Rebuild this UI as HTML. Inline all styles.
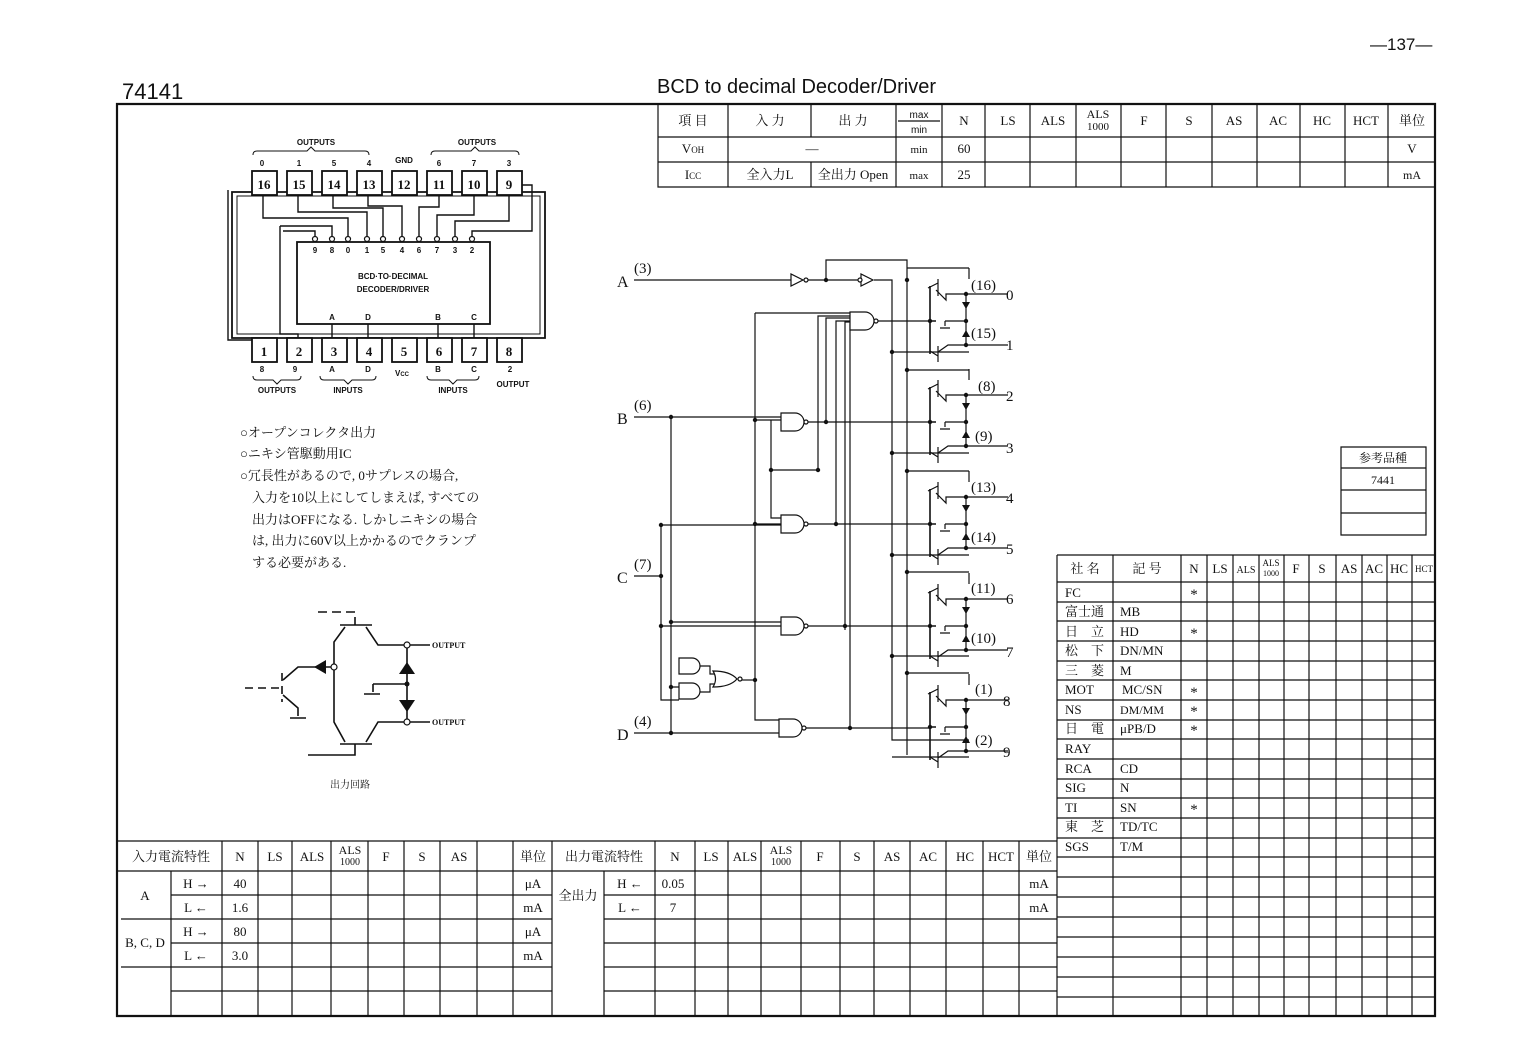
<!DOCTYPE html>
<html><head><meta charset="utf-8"><style>
html,body{margin:0;padding:0;background:#fff}
svg{display:block}
text{font-family:"Liberation Serif","Noto Serif CJK SC",serif;fill:#111}
.s{font-family:"Liberation Sans","Noto Sans CJK JP",sans-serif}
.j{font-family:"Liberation Serif","Noto Serif CJK SC","Noto Sans CJK JP",serif}
</style></head><body>
<svg width="1537" height="1056" viewBox="0 0 1537 1056" xmlns="http://www.w3.org/2000/svg">
<rect width="1537" height="1056" fill="#fff"/>
<g stroke="#111" fill="none" stroke-width="1.3">
<path d="M117 104H1435V1016H117Z" stroke-width="2.2"/>
</g>
<text x="1370" y="50" font-size="17" class="s">—137—</text>
<text x="122" y="99" font-size="22" class="s">74141</text>
<text x="657" y="93" font-size="20" class="s">BCD to decimal Decoder/Driver</text>

<g stroke="#111" stroke-width="1.2" fill="none">
<path d="M658 104V187H1435M658 137H1435M658 162H1435"/>
<path d="M728 104V187M811 104V137M811 162V187M896 104V187M942 104V187M985 104V187M1030 104V187M1076 104V187M1121 104V187M1166 104V187M1212 104V187M1257 104V187M1300 104V187M1345 104V187M1388 104V187M898 121H940"/>
</g>
<g font-size="13" text-anchor="middle" class="j">
<text x="693" y="125">項 目</text><text x="770" y="125">入 力</text><text x="853" y="125">出 力</text>
<text x="919" y="118" font-size="10" class="s">max</text><text x="919" y="133" font-size="10" class="s">min</text>
<text x="964" y="125">N</text><text x="1008" y="125">LS</text><text x="1053" y="125">ALS</text>
<text x="1098" y="118" font-size="12">ALS</text><text x="1098" y="130" font-size="11">1000</text>
<text x="1144" y="125">F</text><text x="1189" y="125">S</text><text x="1234" y="125">AS</text><text x="1278" y="125">AC</text><text x="1322" y="125">HC</text><text x="1366" y="125">HCT</text><text x="1412" y="125">単位</text>
<text x="693" y="153">V<tspan font-size="9">OH</tspan></text><text x="812" y="153">—</text><text x="919" y="153" font-size="11">min</text><text x="964" y="153">60</text><text x="1412" y="153">V</text>
<text x="693" y="179">I<tspan font-size="9">CC</tspan></text><text x="770" y="179">全入力L</text><text x="853" y="179">全出力 Open</text><text x="919" y="179" font-size="11">max</text><text x="964" y="179">25</text><text x="1412" y="179" font-size="12">mA</text>
</g>

<g stroke="#111" stroke-width="1.2" fill="none"><path d="M1341 447H1426V535H1341ZM1341 468H1426M1341 490H1426M1341 513H1426"/></g>
<text x="1383" y="462" font-size="12" text-anchor="middle" class="j">参考品種</text>
<text x="1383" y="484" font-size="12" text-anchor="middle">7441</text>

<g stroke="#111" stroke-width="1.2" fill="none">
<path d="M1057 555H1436M1057 582H1436"/>
<path d="M1057 555V1016M1113 555V1016M1181 555V1016M1207 555V1016M1233 555V1016M1259 555V1016M1284 555V1016M1309 555V1016M1336 555V1016M1362 555V1016M1387 555V1016M1412 555V1016"/>
<path d="M1057 602H1436M1057 621H1436M1057 641H1436M1057 661H1436M1057 680H1436M1057 700H1436M1057 720H1436M1057 739H1436M1057 759H1436M1057 779H1436M1057 798H1436M1057 818H1436M1057 838H1436M1057 857H1436M1057 877H1436M1057 897H1436M1057 917H1436M1057 937H1436M1057 957H1436M1057 977H1436M1057 997H1436"/>
</g>
<g font-size="13" class="j">
<g text-anchor="middle"><text x="1085" y="573">社 名</text><text x="1147" y="573">記 号</text><text x="1194" y="573">N</text><text x="1220" y="573">LS</text><text x="1246" y="573" font-size="10">ALS</text><text x="1271" y="566" font-size="9">ALS</text><text x="1271" y="576" font-size="8">1000</text><text x="1296" y="573">F</text><text x="1322" y="573">S</text><text x="1349" y="573">AS</text><text x="1374" y="573">AC</text><text x="1399" y="573">HC</text><text x="1424" y="572" font-size="9">HCT</text></g>
<text x="1065" y="597">FC</text><text x="1065" y="616">富士通</text><text x="1120" y="616">MB</text>
<text x="1065" y="636">日　立</text><text x="1120" y="636">HD</text>
<text x="1065" y="655">松　下</text><text x="1120" y="655">DN/MN</text>
<text x="1065" y="675">三　菱</text><text x="1120" y="675">M</text>
<text x="1065" y="694">MOT</text><text x="1122" y="694">MC/SN</text>
<text x="1065" y="714">NS</text><text x="1120" y="714" font-size="12">DM/MM</text>
<text x="1065" y="733">日　電</text><text x="1120" y="733">μPB/D</text>
<text x="1065" y="753">RAY</text>
<text x="1065" y="773">RCA</text><text x="1120" y="773">CD</text>
<text x="1065" y="792">SIG</text><text x="1120" y="792">N</text>
<text x="1065" y="812">TI</text><text x="1120" y="812">SN</text>
<text x="1065" y="831">東　芝</text><text x="1120" y="831">TD/TC</text>
<text x="1065" y="851">SGS</text><text x="1120" y="851">T/M</text>
<g text-anchor="middle" font-size="15"><text x="1194" y="599">*</text><text x="1194" y="638">*</text><text x="1194" y="697">*</text><text x="1194" y="716">*</text><text x="1194" y="735">*</text><text x="1194" y="814">*</text></g>
</g>

<g stroke="#111" stroke-width="1.2" fill="none">
<path d="M117 841H1057M117 871H1057"/>
<path d="M171 895H552M604 895H1057M121 919H552M604 919H1057M171 943H552M604 943H1057M121 967H552M604 967H1057M171 991H552M604 991H1057"/>
<path d="M171 871V1016M222 841V1016M258 841V1016M292 841V1016M331 841V1016M368 841V1016M404 841V1016M440 841V1016M477 841V1016M513 841V1016M552 841V1016M604 871V1016M655 841V1016M695 841V1016M728 841V1016M761 841V1016M801 841V1016M840 841V1016M874 841V1016M910 841V1016M946 841V1016M983 841V1016M1019 841V1016"/>
</g>
<g font-size="13" class="j" text-anchor="middle">
<text x="171" y="861">入力電流特性</text><text x="240" y="861">N</text><text x="275" y="861">LS</text><text x="312" y="861">ALS</text><text x="350" y="854" font-size="12">ALS</text><text x="350" y="865" font-size="10">1000</text><text x="386" y="861">F</text><text x="422" y="861">S</text><text x="459" y="861">AS</text><text x="533" y="861">単位</text>
<text x="604" y="861">出力電流特性</text><text x="675" y="861">N</text><text x="711" y="861">LS</text><text x="745" y="861">ALS</text><text x="781" y="854" font-size="12">ALS</text><text x="781" y="865" font-size="10">1000</text><text x="820" y="861">F</text><text x="857" y="861">S</text><text x="892" y="861">AS</text><text x="928" y="861">AC</text><text x="965" y="861">HC</text><text x="1001" y="861">HCT</text><text x="1039" y="861">単位</text>
<text x="145" y="900">A</text><text x="145" y="947">B, C, D</text>
<text x="196" y="888">H →</text><text x="196" y="912">L ←</text><text x="196" y="936">H →</text><text x="196" y="960">L ←</text>
<text x="240" y="888">40</text><text x="240" y="912">1.6</text><text x="240" y="936">80</text><text x="240" y="960">3.0</text>
<text x="533" y="888">μA</text><text x="533" y="912">mA</text><text x="533" y="936">μA</text><text x="533" y="960">mA</text>
<text x="578" y="900">全出力</text><text x="630" y="888">H ←</text><text x="630" y="912">L ←</text><text x="673" y="888">0.05</text><text x="673" y="912">7</text>
<text x="1039" y="888">mA</text><text x="1039" y="912">mA</text>
</g>

<g font-size="13" class="j">
<text x="240" y="437">○オープンコレクタ出力</text>
<text x="240" y="458">○ニキシ管駆動用IC</text>
<text x="240" y="480">○冗長性があるので, 0サプレスの場合,</text>
<text x="252" y="502">入力を10以上にしてしまえば, すべての</text>
<text x="252" y="524">出力はOFFになる. しかしニキシの場合</text>
<text x="252" y="545">は, 出力に60V以上かかるのでクランプ</text>
<text x="252" y="567">する必要がある.</text>
</g>

<g stroke="#111" stroke-width="1.8" fill="none">
<path d="M232 192H545V338H232Z"/>
<path d="M237 196H540V334H237Z" stroke-width="1"/>
<rect x="297" y="242" width="193" height="82"/>
</g>
<g stroke="#111" stroke-width="1.8" fill="#fff">
<rect x="252" y="171" width="25" height="24"/><rect x="287" y="171" width="25" height="24"/><rect x="322" y="171" width="25" height="24"/><rect x="357" y="171" width="25" height="24"/><rect x="392" y="171" width="25" height="24"/><rect x="427" y="171" width="25" height="24"/><rect x="462" y="171" width="25" height="24"/><rect x="497" y="171" width="25" height="24"/>
<rect x="252" y="338" width="25" height="24"/><rect x="287" y="338" width="25" height="24"/><rect x="322" y="338" width="25" height="24"/><rect x="357" y="338" width="25" height="24"/><rect x="392" y="338" width="25" height="24"/><rect x="427" y="338" width="25" height="24"/><rect x="462" y="338" width="25" height="24"/><rect x="497" y="338" width="25" height="24"/>
</g>
<g stroke="#111" stroke-width="1.4" fill="none">
<path d="M263 195V218H348V236"/><path d="M298 195V212H367V236"/><path d="M333 195V208H383V236"/><path d="M368 195V206H402V236"/>
<path d="M439 195V207H419V236"/><path d="M474 195V215H437V236"/><path d="M509 195V221H455V236"/>
<path d="M522 185H532V231H472V236"/>
<path d="M228 190V340H252"/>
<path d="M280 226H332V236"/><path d="M280 226V334H298V338"/>
<path d="M283 231H315V236"/>
<path d="M332 324V338M368 324V338M438 324V338M474 324V338"/>
</g>
<g fill="#fff" stroke="#111" stroke-width="1.2"><circle cx="315" cy="239" r="2.5"/><circle cx="332" cy="239" r="2.5"/><circle cx="348" cy="239" r="2.5"/><circle cx="367" cy="239" r="2.5"/><circle cx="383" cy="239" r="2.5"/><circle cx="402" cy="239" r="2.5"/><circle cx="419" cy="239" r="2.5"/><circle cx="437" cy="239" r="2.5"/><circle cx="455" cy="239" r="2.5"/><circle cx="472" cy="239" r="2.5"/></g>
<g class="s" font-weight="bold" text-anchor="middle">
<g font-size="13"><text x="264" y="189">16</text><text x="299" y="189">15</text><text x="334" y="189">14</text><text x="369" y="189">13</text><text x="404" y="189">12</text><text x="439" y="189">11</text><text x="474" y="189">10</text><text x="509" y="189">9</text>
<text x="264" y="356">1</text><text x="299" y="356">2</text><text x="334" y="356">3</text><text x="369" y="356">4</text><text x="404" y="356">5</text><text x="439" y="356">6</text><text x="474" y="356">7</text><text x="509" y="356">8</text></g>
<g font-size="8" class="s"><text x="316" y="145" class="s">OUTPUTS</text><text x="477" y="145" class="s">OUTPUTS</text><text x="404" y="163" class="s">GND</text>
<text x="262" y="166" class="s">0</text><text x="299" y="166" class="s">1</text><text x="334" y="166" class="s">5</text><text x="369" y="166" class="s">4</text><text x="439" y="166" class="s">6</text><text x="474" y="166" class="s">7</text><text x="509" y="166" class="s">3</text>
<text x="315" y="253" class="s">9</text><text x="332" y="253" class="s">8</text><text x="348" y="253" class="s">0</text><text x="367" y="253" class="s">1</text><text x="383" y="253" class="s">5</text><text x="402" y="253" class="s">4</text><text x="419" y="253" class="s">6</text><text x="437" y="253" class="s">7</text><text x="455" y="253" class="s">3</text><text x="472" y="253" class="s">2</text>
<text x="393" y="279" class="s">BCD·TO·DECIMAL</text><text x="393" y="292" class="s">DECODER/DRIVER</text>
<text x="332" y="320" class="s">A</text><text x="368" y="320" class="s">D</text><text x="438" y="320" class="s">B</text><text x="474" y="320" class="s">C</text>
<text x="262" y="372" class="s">8</text><text x="295" y="372" class="s">9</text><text x="332" y="372" class="s">A</text><text x="368" y="372" class="s">D</text><text x="402" y="376" class="s">V<tspan font-size="6">CC</tspan></text><text x="438" y="372" class="s">B</text><text x="474" y="372" class="s">C</text><text x="510" y="372" class="s">2</text>
<text x="277" y="393" class="s">OUTPUTS</text><text x="348" y="393" class="s">INPUTS</text><text x="453" y="393" class="s">INPUTS</text><text x="513" y="387" class="s">OUTPUT</text></g>
</g>
<g stroke="#111" stroke-width="1" fill="none">
<path d="M253 155q0-4 4-4h50l4-4 4 4h50q4 0 4 4"/><path d="M431 155q0-4 4-4h36l4-4 4 4h36q4 0 4 4"/>
<path d="M253 376q0 4 4 4h16l4 4 4-4h16q4 0 4-4"/><path d="M320 376q0 4 4 4h20l4 4 4-4h20q4 0 4-4"/><path d="M427 376q0 4 4 4h18l4 4 4-4h18q4 0 4-4"/>
</g>

<g stroke="#111" stroke-width="1.6" fill="none">
<path d="M318 612H355V625" stroke-dasharray="9 5"/><path d="M340 625H372"/>
<path d="M345 627L334 642V722L345 742"/><path d="M366 627L378 645H430"/>
<path d="M340 744H372M308 755H355V744" /><path d="M366 742L378 722H430"/>
<path d="M407 645V722M373 684H407M373 684V692M364 694H380"/>
<path d="M282 673V702M245 688H280" stroke-dasharray="8 5"/>
<path d="M283 680L298 667H334M283 695L298 708V716M290 718H306"/>
</g>
<g fill="#111"><path d="M399 674L407 662L415 674Z"/><path d="M399 700H415L407 712Z"/><path d="M314 667L326 660V674Z"/><circle cx="407" cy="684" r="2.5"/></g>
<g fill="#fff" stroke="#111" stroke-width="1.2"><circle cx="407" cy="645" r="3"/><circle cx="407" cy="722" r="3"/><circle cx="334" cy="667" r="3"/></g>
<g class="s" font-size="8" font-weight="bold"><text x="432" y="648">OUTPUT</text><text x="432" y="725">OUTPUT</text></g>
<text x="330" y="788" font-size="10" class="j">出力回路</text>

<g stroke="#111" stroke-width="1.2" fill="none">
<path d="M634 280H791M807 280H861M874 280H892V740H969"/>
<path d="M826 280V260H907V755"/>
<path d="M634 417H785M634 576H661M634 733H779"/>
<path d="M671 417V733M661 525V700H679M661 525H781M671 622H781M661 626H781M671 687H679M661 576"/>
<path d="M755 313V720H779M755 313H859M755 420H771V518H781M771 420H785M771 470H818M755 524H781"/>
<path d="M739 680H755"/>
<path d="M826 420V318H859M818 470V316H859M836 522V321H859M845 630V322H859M850 730V324H859"/>
<path d="M805 422H826M805 524H836M805 626H845M805 728H850"/>
<path d="M700 666H710V674H715M700 692H710V684H715"/>
<path d="M878 321H930M826 422H930M836 524H930M845 626H930M850 728H930"/>
<path d="M892 352H969M892 453H969M892 555H969M892 656H969M892 757H969"/>
<path d="M907 268H969M907 370H969M907 471H969M907 572H969M907 673H969"/>
</g>
<g stroke="#111" stroke-width="1.2" fill="#fff">
<path d="M791 274V286L803 280Z"/><circle cx="806" cy="280" r="2"/>
<path d="M861 274V286L873 280Z"/><circle cx="860" cy="280" r="2"/>
<path d="M850 312H865A9 9 0 0 1 865 330H850Z"/><circle cx="876" cy="321" r="2"/>
<path d="M781 413H795A9 9 0 0 1 795 431H781Z"/><circle cx="806" cy="422" r="2"/>
<path d="M781 515H795A9 9 0 0 1 795 533H781Z"/><circle cx="806" cy="524" r="2"/>
<path d="M781 617H795A9 9 0 0 1 795 635H781Z"/><circle cx="806" cy="626" r="2"/>
<path d="M779 719H793A9 9 0 0 1 793 737H779Z"/><circle cx="804" cy="728" r="2"/>
<path d="M679 658H692A8 8 0 0 1 692 674H679Z"/>
<path d="M679 683H692A8 8 0 0 1 692 699H679Z"/>
<path d="M713 671Q730 671 737 679Q730 687 713 687Q718 679 713 671Z"/><circle cx="740" cy="679" r="2"/>
</g>
<g fill="#111">
<circle cx="826" cy="280" r="2.2"/><circle cx="907" cy="280" r="2.2"/><circle cx="671" cy="417" r="2.2"/><circle cx="661" cy="576" r="2.2"/><circle cx="671" cy="733" r="2.2"/><circle cx="671" cy="622" r="2.2"/><circle cx="661" cy="626" r="2.2"/><circle cx="661" cy="525" r="2.2"/><circle cx="671" cy="687" r="2.2"/>
<circle cx="755" cy="420" r="2.2"/><circle cx="755" cy="524" r="2.2"/><circle cx="755" cy="680" r="2.2"/><circle cx="771" cy="470" r="2.2"/><circle cx="818" cy="470" r="2.2"/><circle cx="826" cy="422" r="2.2"/><circle cx="836" cy="524" r="2.2"/><circle cx="845" cy="626" r="2.2"/><circle cx="850" cy="728" r="2.2"/>
<circle cx="892" cy="352" r="2.2"/><circle cx="892" cy="453" r="2.2"/><circle cx="892" cy="555" r="2.2"/><circle cx="892" cy="656" r="2.2"/>
<circle cx="907" cy="370" r="2.2"/><circle cx="907" cy="471" r="2.2"/><circle cx="907" cy="572" r="2.2"/><circle cx="907" cy="673" r="2.2"/>
</g>
<g class="j" font-size="16">
<text x="617" y="287">A</text><text x="634" y="273" font-size="15">(3)</text>
<text x="617" y="424">B</text><text x="634" y="410" font-size="15">(6)</text>
<text x="617" y="583">C</text><text x="634" y="569" font-size="15">(7)</text>
<text x="617" y="740">D</text><text x="634" y="726" font-size="15">(4)</text>
</g>
<g id="st" stroke="#111" stroke-width="1.2" fill="none">
<path d="M930 286V354M930 321H936" stroke-width="1.6"/>
<path d="M928 288L938 283M938 279V296M936 290L946 300V294H966M969 268V279M930 351L938 356M938 346V362M938 352L948 345H966"/>
<path d="M966 294H1008M966 345H1008M966 294V345M945 321H966M945 321V326M940 328H950"/>
</g>
<use href="#st" y="101"/><use href="#st" y="203"/><use href="#st" y="305"/><use href="#st" y="406"/>
<g fill="#111">
<g id="zz"><circle cx="966" cy="294" r="2.2"/><circle cx="966" cy="321" r="2.2"/><circle cx="966" cy="345" r="2.2"/><circle cx="930" cy="321" r="2.2"/><path d="M962 302H970L966 309Z"/><path d="M962 337H970L966 330Z"/></g>
<use href="#zz" y="101"/><use href="#zz" y="203"/><use href="#zz" y="305"/><use href="#zz" y="406"/>
</g>
<g class="j" font-size="15">
<text x="971" y="290">(16)</text><text x="1006" y="300">0</text><text x="971" y="338">(15)</text><text x="1006" y="350">1</text>
<text x="978" y="391">(8)</text><text x="1006" y="401">2</text><text x="975" y="441">(9)</text><text x="1006" y="453">3</text>
<text x="971" y="492">(13)</text><text x="1006" y="503">4</text><text x="971" y="542">(14)</text><text x="1006" y="554">5</text>
<text x="971" y="593">(11)</text><text x="1006" y="604">6</text><text x="971" y="643">(10)</text><text x="1006" y="657">7</text>
<text x="975" y="694">(1)</text><text x="1003" y="706">8</text><text x="975" y="745">(2)</text><text x="1003" y="757">9</text>
</g>
</svg>
</body></html>
